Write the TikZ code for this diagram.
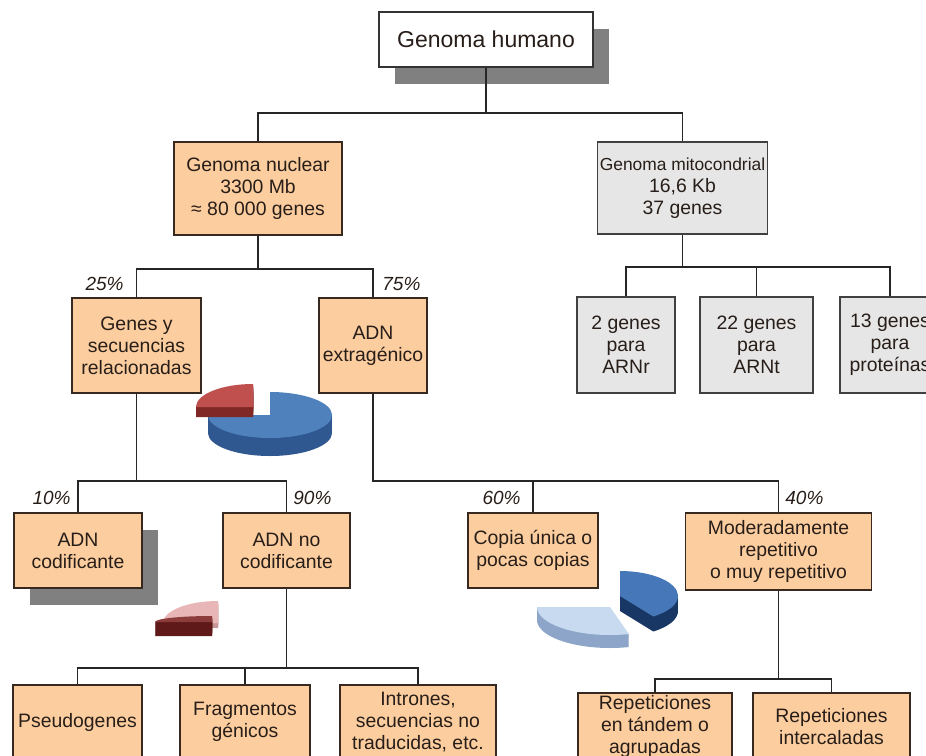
\documentclass[tikz,border=0pt]{standalone}
\usepackage{fontspec}
\setmainfont{Liberation Sans}
\usepackage{tikz}
\usetikzlibrary{shadows}

\definecolor{peach}{RGB}{252,205,158}
\definecolor{lgray}{RGB}{230,230,230}
\definecolor{shade}{RGB}{128,128,128}
\definecolor{ink}{RGB}{40,30,25}
\definecolor{edge}{RGB}{55,40,32}
% pie colours
\definecolor{bluetop}{RGB}{79,129,189}
\definecolor{blueside}{RGB}{47,88,145}
\definecolor{redtop}{RGB}{192,80,77}
\definecolor{redside}{RGB}{128,40,38}
\definecolor{pinktop}{RGB}{232,182,182}
\definecolor{pinkside}{RGB}{200,150,150}
\definecolor{wine}{RGB}{140,60,58}
\definecolor{wineside}{RGB}{95,25,25}
\definecolor{skytop}{RGB}{200,218,240}
\definecolor{skyside}{RGB}{140,165,200}
\definecolor{navytop}{RGB}{70,120,185}
\definecolor{navyside}{RGB}{25,55,100}

\begin{document}
\begin{tikzpicture}[
  x=0.5pt, y=-0.5pt,
  every node/.style={align=center, text=ink},
  % boxes
  obox/.style={
    rectangle, draw=edge, fill=peach,
    line width=0.6pt, inner sep=1pt,
    font=\fontsize{9.7}{11}\selectfont
  },
  gbox/.style={obox, draw=black!75, fill=lgray},
  sbox/.style={drop shadow={shadow xshift=7.75pt, shadow yshift=-8.25pt, fill=shade, opacity=1}},
  % percentages
  pct/.style={font=\itshape\fontsize{9.5}{10}\selectfont, inner sep=0pt},
  % connectors
  link/.style={draw=black!85, line width=0.6pt},
]
\useasboundingbox (0,0) rectangle (926,755);
\clip (0,0) rectangle (926,755);

% -------------------------------------------------------
% TOP
% -------------------------------------------------------
\node[obox, sbox, draw=black!80, fill=white, minimum width=107pt, minimum height=27.5pt,
      font=\fontsize{11.5}{13}\selectfont] (gh) at (486,39.5) {Genoma humano};

\node[obox, minimum width=84pt, minimum height=46.5pt]   (gn) at (258,188.5) {Genoma nuclear\\3300 Mb\\≈ 80 000 genes};
\node[gbox, minimum width=83.5pt, minimum height=46pt]   (gm) at (682.5,188)
  {{\fontsize{8.7}{11}\selectfont Genoma mitocondrial}\\16,6 Kb\\37 genes};

\coordinate (j0) at (486,113);
\draw[link] (gh.south) -- (j0);
\draw[link] (gn.north) |- (j0) -| (gm.north);

% -------------------------------------------------------
% NUCLEAR — genes / extragenic
% -------------------------------------------------------
\node[obox, minimum width=64.5pt, minimum height=47.5pt] (gs) at (136.5,345.5) {Genes y\\secuencias\\relacionadas};
\node[obox, minimum width=54pt, minimum height=47.5pt]   (ae) at (373,345.5)   {ADN\\extragénico};

\coordinate (j1) at (258,269);
\draw[link] (gn.south) -- (j1);
\draw[link] (gs.north) |- (j1) -| (ae.north);

\node[pct, anchor=east] (p25) at (124,284) {25\%};
\node[pct, anchor=west] (p75) at (382,284) {75\%};

% -------------------------------------------------------
% MITOCHONDRIAL
% -------------------------------------------------------
\node[gbox, minimum width=49pt, minimum height=48pt]   (m1) at (626,345)   {2 genes\\para\\ARNr};
\node[gbox, minimum width=56.5pt, minimum height=48pt] (m2) at (756.5,345) {22 genes\\para\\ARNt};
\node[gbox, minimum width=50pt, minimum height=48pt]   (m3) at (890,345)   {13 genes\\para\\proteínas};

\coordinate (j2) at (682.5,267);
\draw[link] (gm.south) -- (j2);
\draw[link] (m1.north) |- (j2) -| (m3.north);
\draw[link] (m2.north) -- (m2.north |- j2);

% -------------------------------------------------------
% LEVEL 3
% -------------------------------------------------------
\node[obox, sbox, minimum width=64pt, minimum height=37.5pt] (ac)  at (78,550.5)    {ADN\\codificante};
\node[obox, minimum width=63.5pt, minimum height=37.5pt]     (anc) at (286.5,550.5) {ADN no\\codificante};
\node[obox, minimum width=65pt, minimum height=37.5pt]       (cu)  at (533,550.5)   {Copia única o\\pocas copias};
\node[obox, minimum width=93pt, minimum height=38.5pt]       (mr)  at (778.5,551.5) {Moderadamente\\repetitivo\\o muy repetitivo};

\coordinate (j3) at (136.5,481);
\draw[link] (gs.south) -- (j3);
\draw[link] (ac.north) |- (j3) -| (anc.north);

\coordinate (j4) at (373,481);
\draw[link] (ae.south) -- (j4) -| (mr.north);
\draw[link] (cu.north) -- (cu.north |- j4);

\node[pct, anchor=east] (p10) at (71,498)  {10\%};
\node[pct, anchor=west] (p90) at (293,498) {90\%};
\node[pct, anchor=east] (p60) at (521,498) {60\%};
\node[pct, anchor=west] (p40) at (785,498) {40\%};

% -------------------------------------------------------
% LEVEL 4 (cut at the bottom)
% -------------------------------------------------------
\node[obox, minimum width=64.5pt, minimum height=37pt]   (ps)   at (77.5,722)  {Pseudogenes};
\node[obox, minimum width=65pt, minimum height=37pt]     (fg)   at (245,722)   {Fragmentos\\génicos};
\node[obox, minimum width=78pt, minimum height=37pt]     (intr) at (418,722)   {Intrones,\\secuencias no\\traducidas, etc.};
\node[obox, minimum width=77pt, minimum height=33.5pt]   (rt)   at (655,726.5) {Repeticiones\\en tándem o\\agrupadas};
\node[obox, minimum width=78.5pt, minimum height=33.5pt] (ri)   at (831.5,726.5) {Repeticiones\\intercaladas};

\coordinate (j5) at (286.5,668);
\draw[link] (anc.south) -- (j5);
\draw[link] (ps.north) |- (j5) -| (intr.north);
\draw[link] (fg.north) -- (fg.north |- j5);

\coordinate (j6) at (778.5,679);
\draw[link] (mr.south) -- (j6);
\draw[link] (rt.north) |- (j6) -| (ri.north);

% -------------------------------------------------------
% PIES (3D slices, side built by stacking)
% -------------------------------------------------------
% 25 / 75
\foreach \lay in {1,...,18}
  \fill[blueside, shift={(0,\lay)}] (270,415) -- (270,392)
    arc[start angle=-90, end angle=180, x radius=62, y radius=23] -- cycle;
\fill[bluetop] (270,415) -- (270,392)
  arc[start angle=-90, end angle=180, x radius=62, y radius=23] -- cycle;
\foreach \lay in {1,...,10}
  \fill[redside, shift={(0,\lay)}] (253,407) -- (196,407)
    arc[start angle=180, end angle=270, x radius=57, y radius=23] -- cycle;
\fill[redtop] (253,407) -- (196,407)
  arc[start angle=180, end angle=270, x radius=57, y radius=23] -- cycle;

% 10 / 90
\foreach \lay in {1,...,5}
  \fill[pinkside, shift={(0,\lay)}] (218,623) -- (163,623)
    arc[start angle=180, end angle=270, x radius=55, y radius=22] -- cycle;
\fill[pinktop] (218,623) -- (163,623)
  arc[start angle=180, end angle=270, x radius=55, y radius=22] -- cycle;
\foreach \lay in {1,...,14}
  \fill[wineside, shift={(0,\lay)}] (212,622) -- (155,622)
    arc[start angle=180, end angle=270, x radius=57, y radius=6] -- cycle;
\fill[wine] (212,622) -- (155,622)
  arc[start angle=180, end angle=270, x radius=57, y radius=6] -- cycle;

% 60 / 40
\foreach \lay in {1,...,15}
  \fill[navyside, shift={(0,\lay)}] (620,596) -- (620,571)
    arc[start angle=-90, end angle=55, x radius=58, y radius=25] -- cycle;
\fill[navytop] (620,596) -- (620,571)
  arc[start angle=-90, end angle=55, x radius=58, y radius=25] -- cycle;
\foreach \lay in {1,...,13}
  \fill[skyside, shift={(0,\lay)}] (610,607) -- (537,607)
    arc[start angle=180, end angle=75, x radius=73, y radius=28] -- cycle;
\fill[skytop] (610,607) -- (537,607)
  arc[start angle=180, end angle=75, x radius=73, y radius=28] -- cycle;

\end{tikzpicture}
\end{document}
